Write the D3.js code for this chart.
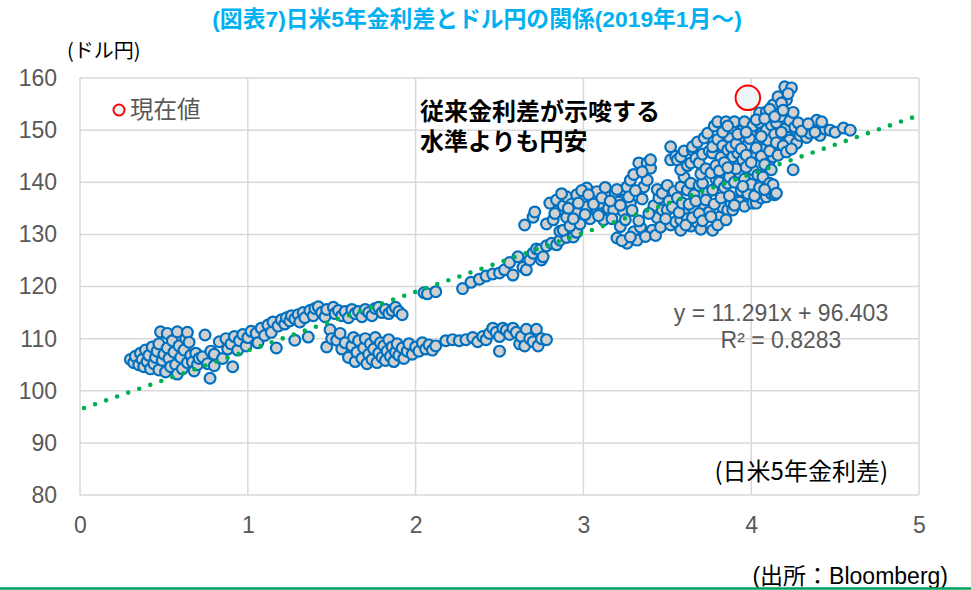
<!DOCTYPE html>
<html><head><meta charset="utf-8">
<script src="https://cdn.jsdelivr.net/npm/d3@7"></script>
<style>
body{margin:0;background:#fff;}
text{font-family:"Liberation Sans",Arial,"Noto Sans CJK JP",sans-serif;}
.jp{font-family:"Noto Sans CJK JP","Liberation Sans",sans-serif;}
</style></head>
<body><svg id="c" width="971" height="590"></svg>
<script>
// ---- data ----
const xTicks = [0,1,2,3,4,5];
const yTicks = [80,90,100,110,120,130,140,150,160];
const trend = {slope:11.291, intercept:96.403};
const current = [[3.98,156.2]];
// 2019: spread 0.3-1.0
const cluster2019 = [[0.30,106.0],[0.32,105.4],[0.33,106.6],[0.35,105.0],[0.36,107.2],[0.37,106.0],[0.38,104.6],[0.39,107.8],[0.40,105.6],[0.41,106.8],[0.42,104.2],[0.43,108.4],[0.44,105.2],[0.45,106.4],[0.46,107.6],[0.47,104.0],[0.47,109.0],[0.48,111.3],[0.49,105.8],[0.50,107.0],[0.51,103.6],[0.52,108.2],[0.52,111.0],[0.53,106.2],[0.54,104.6],[0.55,109.6],[0.56,107.4],[0.57,105.0],[0.58,103.2],[0.58,111.3],[0.59,108.6],[0.60,106.4],[0.61,104.2],[0.62,107.8],[0.63,110.0],[0.64,111.2],[0.64,105.4],[0.65,109.3],[0.66,106.8],[0.67,105.5],[0.68,103.8],[0.69,107.2],[0.70,105.0],[0.71,106.2],[0.73,106.5],[0.745,110.7],[0.76,105.2],[0.775,102.4],[0.78,107.6],[0.80,107.0],[0.80,104.8],[0.83,109.4],[0.85,106.2],[0.87,110.0],[0.88,108.0],[0.90,109.0],[0.91,104.6],[0.92,110.4],[0.94,107.8],[0.95,109.6],[0.97,110.8],[0.99,108.6],[1.00,110.2]];
// upper band 1.0-1.95
const clusterUpper = [[1.02,111.4],[1.05,111.0],[1.06,109.2],[1.08,112.0],[1.10,110.6],[1.12,112.6],[1.14,111.2],[1.15,113.2],[1.17,108.2],[1.18,112.4],[1.20,113.6],[1.22,112.8],[1.23,114.0],[1.25,113.4],[1.26,114.4],[1.28,109.7],[1.28,113.8],[1.30,114.6],[1.31,113.2],[1.33,115.0],[1.34,114.0],[1.36,110.3],[1.37,115.4],[1.39,114.4],[1.40,115.8],[1.42,116.1],[1.44,115.0],[1.46,114.2],[1.47,115.6],[1.49,111.7],[1.51,116.0],[1.52,114.8],[1.54,115.4],[1.56,114.4],[1.58,115.2],[1.60,114.0],[1.62,115.6],[1.64,114.8],[1.66,115.2],[1.68,114.2],[1.70,115.6],[1.72,115.0],[1.74,114.4],[1.76,115.8],[1.78,116.0],[1.80,115.0],[1.82,115.6],[1.84,114.8],[1.86,115.4],[1.88,116.0],[1.90,115.2],[1.92,114.6]];
// lower band 1.45-2.8
const clusterLower = [[1.47,108.4],[1.50,110.0],[1.53,109.7],[1.55,111.0],[1.56,108.0],[1.58,109.2],[1.60,106.4],[1.62,108.6],[1.63,110.2],[1.64,105.6],[1.65,107.4],[1.66,109.6],[1.68,106.2],[1.69,108.2],[1.70,110.0],[1.71,105.2],[1.72,107.0],[1.73,109.0],[1.74,106.0],[1.75,108.0],[1.76,110.2],[1.77,105.4],[1.78,107.2],[1.79,109.2],[1.80,106.4],[1.81,108.6],[1.82,105.8],[1.83,107.6],[1.84,109.8],[1.85,106.6],[1.86,108.4],[1.87,105.6],[1.88,107.4],[1.89,109.0],[1.90,106.8],[1.92,108.2],[1.93,106.2],[1.95,107.6],[1.96,109.0],[1.98,107.0],[2.00,108.4],[2.02,107.6],[2.04,109.2],[2.06,108.0],[2.08,108.8],[2.10,107.8],[2.12,108.6],[2.18,109.6],[2.22,109.8],[2.26,109.6],[2.30,109.8],[2.34,110.2],[2.37,109.4],[2.40,110.4],[2.42,109.8],[2.44,111.0],[2.46,112.0],[2.48,111.2],[2.50,107.6],[2.50,110.4],[2.52,112.0],[2.54,111.6],[2.56,110.8],[2.58,112.0],[2.60,111.2],[2.62,109.0],[2.63,110.4],[2.65,108.6],[2.66,111.8],[2.68,110.0],[2.70,109.4],[2.72,111.8],[2.73,108.6],[2.75,110.0],[2.78,109.8]];
// rise 2.0-3.0
const clusterRise = [[2.05,118.8],[2.07,118.6],[2.12,119.0],[2.28,119.6],[2.33,120.8],[2.38,121.4],[2.42,122.0],[2.46,122.4],[2.50,122.6],[2.53,123.2],[2.56,124.6],[2.58,122.2],[2.61,125.7],[2.64,123.7],[2.66,123.2],[2.68,125.1],[2.70,126.4],[2.72,127.2],[2.74,127.0],[2.75,125.1],[2.76,125.7],[2.78,127.8],[2.81,128.3],[2.84,128.0],[2.86,128.9],[2.90,129.4],[2.94,129.5],[2.96,130.4],[2.65,131.8],[2.70,133.3],[2.71,134.3]];
// 2022 peak cluster
const cluster2022 = [[2.78,132.0],[2.80,136.0],[2.82,132.8],[2.84,136.6],[2.85,134.5],[2.86,130.6],[2.88,130.8],[2.88,135.5],[2.90,137.2],[2.90,133.3],[2.92,131.6],[2.93,135.8],[2.96,137.6],[2.96,134.1],[2.98,132.0],[3.00,136.4],[3.02,138.9],[3.02,135.3],[3.04,133.0],[3.05,137.0],[3.08,138.2],[3.08,134.8],[3.10,136.0],[3.12,132.8],[3.14,137.6],[3.15,135.0],[3.18,134.7],[3.19,137.9],[3.20,129.3],[3.21,136.2],[3.22,131.5],[3.24,134.3],[3.24,138.5],[3.26,128.3],[3.26,139.1],[3.28,140.4],[3.28,136.0],[3.30,130.5],[3.32,128.9],[3.33,143.7],[3.34,131.4],[3.36,139.1],[3.38,143.7],[3.38,140.4],[3.40,142.7],[3.40,144.3],[3.41,130.8],[3.42,135.5],[3.44,133.2],
  [2.83,134.0],[2.87,137.8],[2.91,135.0],[2.94,133.0],[2.97,136.0],[2.99,138.4],[3.01,133.8],[3.03,137.6],[3.06,135.8],[3.09,133.6],[3.11,137.0],[3.13,139.0],[3.16,136.4],[3.17,133.0],[3.20,138.6],[3.22,135.6],[3.25,132.8],[3.27,137.2],[3.29,134.6],[3.31,138.4],[3.33,132.6],[3.35,136.8],[3.37,129.6],[3.39,134.0],[3.43,129.8],[3.45,137.0],[3.30,141.5],[3.35,142.0],[3.23,128.8],[3.28,129.5]];
// 2023 bands
const cluster2023 = [[3.46,131.4],[3.47,134.7],[3.50,134.7],[3.52,131.8],[3.55,132.4],[3.58,132.8],[3.58,130.8],[3.60,134.0],[3.62,133.0],[3.64,131.6],[3.66,134.6],[3.68,132.2],[3.70,131.0],[3.72,135.0],[3.74,134.1],[3.75,134.3],[3.77,130.8],[3.79,133.0],[3.81,133.3],[3.83,135.2],[3.86,134.7],[3.88,136.0],[3.89,134.7],[3.92,136.6],[3.93,136.2],[3.96,135.4],[4.01,136.0],[4.03,136.0],[4.06,137.0],[4.09,137.2],[4.12,137.8],[4.14,137.6],[3.44,138.6],[3.47,137.9],[3.50,139.4],[3.54,138.2],[3.58,139.1],[3.60,141.0],[3.62,138.5],[3.64,139.8],[3.66,137.6],[3.69,139.4],[3.71,139.8],[3.74,138.0],[3.77,138.5],[3.79,140.6],[3.81,140.0],[3.84,139.0],[3.86,139.8],[3.87,141.0],[3.90,140.0],[3.93,141.8],[3.96,140.6],[4.01,142.4],[4.04,141.4],[4.07,141.0],[4.11,139.8],[4.13,139.5],[4.15,137.9],[4.25,142.4],
  [3.49,133.0],[3.51,136.4],[3.53,135.2],[3.56,137.0],[3.57,134.2],[3.59,136.0],[3.61,131.8],[3.63,135.8],[3.65,133.2],[3.67,136.4],[3.69,134.0],[3.71,132.6],[3.73,136.6],[3.76,133.4],[3.78,135.8],[3.80,131.8],[3.82,137.0],[3.85,132.8],[3.87,137.4],[3.90,135.6],[3.94,138.4],[3.98,137.8],[4.00,139.6],[4.02,137.4],[4.05,139.0],[4.08,138.6],[3.91,142.6],[3.95,139.2]];
// 2024 upper blob
const cluster2024 = [[3.52,144.3],[3.52,146.8],[3.55,145.0],[3.56,144.3],[3.58,142.4],[3.58,144.9],[3.60,146.0],[3.62,143.2],[3.64,143.7],[3.65,146.2],[3.65,146.8],[3.67,144.6],[3.68,147.7],[3.69,143.7],[3.71,145.4],[3.72,148.5],[3.74,149.4],[3.75,146.0],[3.77,145.6],[3.77,146.8],[3.78,150.8],[3.80,151.6],[3.80,148.2],[3.82,144.8],[3.83,147.0],[3.85,151.6],[3.86,146.2],[3.87,148.7],[3.88,150.4],[3.89,144.9],[3.90,151.6],[3.92,145.6],[3.93,148.0],[3.95,144.3],[3.95,150.0],[3.96,151.6],[3.97,142.9],[3.98,147.2],[4.00,149.0],[4.01,150.8],[4.02,145.4],[4.04,147.8],[4.05,153.3],[4.05,151.4],[4.07,149.6],[4.08,146.4],[4.09,150.0],[4.09,153.5],[4.10,148.0],[4.11,144.2],[4.12,151.0],[4.13,154.8],[4.13,144.9],[4.14,149.2],[4.15,151.4],[4.16,156.4],[4.17,146.8],[4.18,152.6],[4.20,158.3],[4.20,150.2],[4.21,155.8],[4.22,148.6],[4.23,148.1],[4.23,151.8],[4.24,158.1],[4.25,153.4],[4.26,150.6],[4.27,147.5],[4.29,149.0],[4.31,150.8],[4.33,148.6],[4.35,149.4],[4.37,150.6],[4.39,151.9],[4.41,149.0],[4.44,150.2],[4.47,150.0],[4.50,149.6],[4.55,150.4],[4.59,150.0],
  [3.70,141.6],[3.73,142.6],[3.76,141.8],[3.79,143.2],[3.81,142.2],[3.84,143.8],[3.86,142.8],[3.88,146.8],[3.91,147.4],[3.94,146.4],[3.97,145.2],[3.99,148.4],[4.00,143.8],[4.03,146.6],[4.06,145.0],[4.06,148.8],[4.08,143.4],[4.11,146.0],[4.12,142.4],[4.15,147.6],[4.16,145.2],[4.18,149.6],[4.19,147.0],[4.21,145.8],[4.24,146.4],[4.28,151.4],[4.30,149.8],[4.34,151.2],[4.38,149.6],[4.42,151.6],[3.83,149.6],[3.86,150.8],[3.92,149.2],[3.97,149.6],[4.03,152.0],[4.08,152.2],[4.11,154.0],[4.14,152.6],[4.18,155.2],[4.19,153.8],[4.22,157.0]];
const noteLines = ["従来金利差が示唆する","水準よりも円安"];

// ---- chart ----
const svg = d3.select("#c");
const L=80, R=919, T=78, B=495;
const x = d3.scaleLinear().domain([0,5]).range([L,R]);
const y = d3.scaleLinear().domain([80,160]).range([B,T]);
const grid="#d9d9d9", txt="#595959";

svg.append("g").selectAll("line").data(yTicks).join("line")
  .attr("x1",L).attr("x2",R).attr("y1",d=>y(d)).attr("y2",d=>y(d))
  .attr("stroke",grid).attr("stroke-width",1.5);
svg.append("g").selectAll("line").data(xTicks).join("line")
  .attr("y1",T).attr("y2",B).attr("x1",d=>x(d)).attr("x2",d=>x(d))
  .attr("stroke",grid).attr("stroke-width",1.5);

const ya = svg.append("g").attr("transform",`translate(${L},0)`)
  .call(d3.axisLeft(y).tickValues(yTicks).tickSize(0).tickPadding(23));
const xa = svg.append("g").attr("transform",`translate(0,${B})`)
  .call(d3.axisBottom(x).tickValues(xTicks).tickFormat(d3.format("d")).tickSize(0).tickPadding(22));
[ya,xa].forEach(a=>{a.select(".domain").remove();
  a.selectAll("text").attr("fill",txt).style("font-size","23px").style("font-family","'Liberation Sans',Arial,sans-serif");});

// points
const all = [].concat(cluster2019,clusterUpper,clusterLower,clusterRise,cluster2022,cluster2023,cluster2024);
svg.append("g").selectAll("circle").data(all).join("circle")
  .attr("cx",d=>x(d[0])).attr("cy",d=>y(d[1])).attr("r",5.4)
  .attr("fill","#d0d0d0").attr("stroke","#0070c0").attr("stroke-width",2.2);

// trendline
svg.append("line")
  .attr("x1",x(0)+4).attr("y1",y(trend.intercept+trend.slope*0.024))
  .attr("x2",x(5)).attr("y2",y(trend.intercept+trend.slope*5))
  .attr("stroke","#00b050").attr("stroke-width",4.6).attr("stroke-linecap","round")
  .attr("stroke-dasharray","0 11.7");

// current value
svg.append("g").selectAll("circle").data(current).join("circle")
  .attr("cx",d=>x(d[0])).attr("cy",d=>y(d[1])).attr("r",12.3)
  .attr("fill","#eef5f8").attr("stroke","#ff0000").attr("stroke-width",2);

// legend
svg.append("circle").attr("cx",119).attr("cy",110).attr("r",5.5)
  .attr("fill","#eef5f8").attr("stroke","#ff0000").attr("stroke-width",2);
svg.append("text").attr("class","jp").attr("x",130).attr("y",118).attr("fill",txt)
  .style("font-size","23.5px").text("現在値");

// title
svg.append("text").attr("x",477).attr("y",27).attr("text-anchor","middle")
  .attr("fill","#00b0f0").style("font-weight","bold").style("font-size","22.8px")
  .style("font-family","'Liberation Sans','Noto Sans CJK JP',sans-serif")
  .text("(図表7)日米5年金利差とドル円の関係(2019年1月～)");

svg.append("text").attr("class","jp").attr("x",67).attr("y",58).attr("fill","#000")
  .style("font-size","20px").text("(ドル円)");

svg.append("g").selectAll("text").data(noteLines).join("text")
  .attr("x",420).attr("y",(d,i)=>120+i*30).attr("fill","#000")
  .style("font-size","24px").style("font-weight","bold")
  .style("font-family","'Liberation Sans','Noto Sans CJK JP',sans-serif")
  .text(d=>d);

svg.append("text").attr("x",781).attr("y",321).attr("text-anchor","middle").attr("fill",txt)
  .style("font-size","23px").text("y = 11.291x + 96.403");
svg.append("text").attr("x",781).attr("y",348).attr("text-anchor","middle").attr("fill",txt)
  .style("font-size","23px").text("R² = 0.8283");

svg.append("text").attr("class","jp").attr("x",888).attr("y",480).attr("text-anchor","end").attr("fill","#000")
  .style("font-size","24px").text("(日米5年金利差)");

svg.append("text").attr("x",948).attr("y",584).attr("text-anchor","end").attr("fill","#000")
  .style("font-size","23px").style("font-family","'Liberation Sans','Noto Sans CJK JP',sans-serif")
  .text("(出所：Bloomberg)");

svg.append("line").attr("x1",0).attr("x2",971).attr("y1",588.5).attr("y2",588.5)
  .attr("stroke","#00a060").attr("stroke-width",2.5);
</script></body></html>
